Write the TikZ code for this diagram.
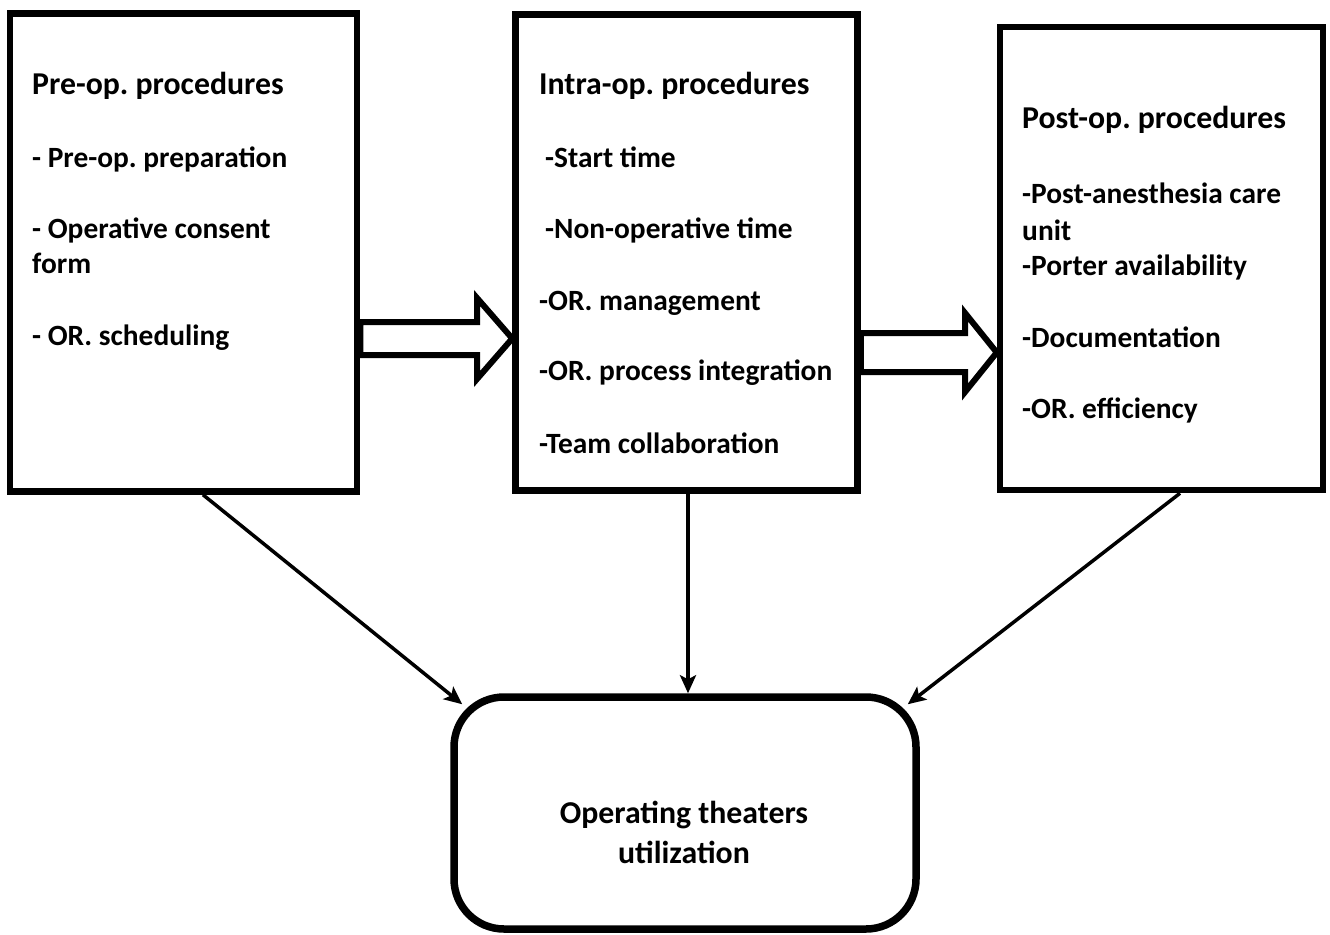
\documentclass[tikz,border=0pt]{standalone}
\usepackage{fontspec}
\setmainfont{Carlito}
\usetikzlibrary{arrows.meta,positioning,calc}
\newcommand{\headfont}{\fontsize{31.8}{36}\selectfont\bfseries\frenchspacing}
\newcommand{\itemfont}{\fontsize{29.4}{34}\selectfont\bfseries\frenchspacing}
\tikzset{
  stage/.style={draw, line width=6.5pt, inner sep=0pt},
  outcome/.style={draw, line width=7.5pt, rounded corners=50pt, inner sep=0pt},
  head/.style={anchor=base west, inner sep=0pt, font=\headfont},
  item/.style={anchor=base west, inner sep=0pt, font=\itemfont},
  restxt/.style={anchor=base, inner sep=0pt, font=\headfont},
  fat/.style={line width=6pt, line join=miter},
  link/.style={-{Stealth[length=18pt, width=16pt, inset=4pt]}, line width=3.5pt},
}

\begin{document}
\begin{tikzpicture}[x=1pt, y=-1pt]
  \useasboundingbox (0,0) rectangle (1330,934);
  % the three stages
  \node[stage, minimum width=347pt, minimum height=478pt] (pre) at (183.5,252.5) {};
  \node[stage, minimum width=342pt, minimum height=476pt] (intra) at (686.5,252.5) {};
  \node[stage, minimum width=323pt, minimum height=463pt] (post) at (1161.5,258.5) {};
  \node[outcome, minimum width=462pt, minimum height=232pt] (res) at (685,813) {};
  % texts
  \node[head] (prehead) at (32,95) {Pre-op. procedures};
  \foreach \x/\y/\t [count=\i] in {32/167/- Pre-op. preparation,
      32/238/- Operative consent, 32/273/form, 32/345/- OR. scheduling}
    \node[item] (pre\i) at (\x,\y) {\t};
  \node[head] (intrahead) at (539,95) {Intra-op. procedures};
  \foreach \x/\y/\t [count=\i] in {545/167/-Start time,
      545/238/-Non-operative time, 539/310/-OR. management,
      539/380/-OR. process integration, 539/453/-Team collaboration}
    \node[item] (intra\i) at (\x,\y) {\t};
  \node[head] (posthead) at (1022,128) {Post-op. procedures};
  \foreach \x/\y/\t [count=\i] in {1022/203/-Post-anesthesia care,
      1022/240/unit, 1022/275/-Porter availability, 1022/347/-Documentation,
      1022/418/-OR. efficiency}
    \node[item] (post\i) at (\x,\y) {\t};
  \node[restxt] (res1) at (684,823) {Operating theaters};
  \node[restxt] (res2) at (684,863) {utilization};
  % block arrows between stages
  \draw[fat] (pre.east |- 0,322) -- (477,322) -- (477,298) -- (intra.west |- 0,338.5)
    -- (477,379) -- (477,355) -- (pre.east |- 0,355) -- cycle;
  \draw[fat] (intra.east |- 0,333) -- (965,333) -- (965,313) -- (post.west |- 0,352.5)
    -- (965,392) -- (965,372) -- (intra.east |- 0,372) -- cycle;
  % links to the outcome
  \draw[link] ([xshift=19.5pt]pre.south) -- ([xshift=12pt,yshift=-11pt]res.north west);
  \draw[link] ([xshift=1.5pt]intra.south) -- ([xshift=1.5pt]intra.south |- res.north);
  \draw[link] ([xshift=18.5pt]post.south) -- ([xshift=-12pt,yshift=-11pt]res.north east);
\end{tikzpicture}
\end{document}
